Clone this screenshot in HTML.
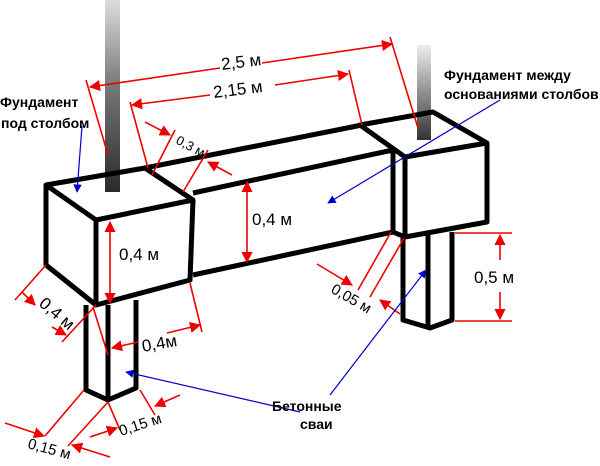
<!DOCTYPE html>
<html><head><style>body{margin:0;background:#fff}svg{display:block}</style></head><body>
<svg width="600" height="466" viewBox="0 0 600 466" xmlns="http://www.w3.org/2000/svg" font-family="Liberation Sans, sans-serif">
<defs>
<linearGradient id="g" x1="0" y1="0" x2="0" y2="1"><stop offset="0" stop-color="#ddd"/><stop offset="0.45" stop-color="#777"/><stop offset="1" stop-color="#2a2a2a"/></linearGradient>
<linearGradient id="g2" x1="0" y1="0" x2="0" y2="1"><stop offset="0" stop-color="#eee"/><stop offset="1" stop-color="#333"/></linearGradient>
<marker id="r" viewBox="0 0 10 10" refX="9" refY="5" markerWidth="7" markerHeight="7" orient="auto-start-reverse"><path d="M0,0L10,5L0,10z" fill="#e00"/></marker>
<marker id="b" viewBox="0 0 10 10" refX="9" refY="5" markerWidth="7" markerHeight="7" orient="auto"><path d="M0,0L10,5L0,10z" fill="#00c"/></marker>
</defs>
<rect x="105" y="0" width="15" height="192" fill="url(#g)"/>
<rect x="417" y="45" width="14" height="95" fill="url(#g2)"/>
<g fill="none" stroke="#000" stroke-width="5" stroke-linejoin="round">
<polyline points="145,168 362,125"/>
<polyline points="193,193 393,150"/>
<polyline points="193,275 393,232"/>
<polygon points="46,185 145,168 193,200 96,220"/>
<polyline points="46,185 46,265 96,305 190,280 193,200"/>
<line x1="96" y1="220" x2="96" y2="305"/>
<polygon points="360,125 433,112 487,143 405,157"/>
<polyline points="393,150 393,232 405,237 487,222 487,143"/>
<line x1="405" y1="157" x2="405" y2="237"/>
<polyline points="86,305 86,390 108,400 136,388 136,300"/>
<line x1="108" y1="305" x2="108" y2="400"/>
<polyline points="403,237 403,320 430,328 452,320 452,232"/>
<line x1="428" y1="235" x2="428" y2="328"/>
</g>
<g stroke="#e00" stroke-width="1.6" fill="none">
<line x1="86" y1="80" x2="108" y2="155"/><line x1="390" y1="37" x2="418" y2="128"/>
<line x1="90" y1="87" x2="220" y2="68" marker-start="url(#r)"/><line x1="262" y1="63" x2="392" y2="44" marker-end="url(#r)"/>
<line x1="130" y1="102" x2="148" y2="168"/><line x1="349" y1="70" x2="362" y2="125"/>
<line x1="132" y1="105" x2="210" y2="95" marker-start="url(#r)"/><line x1="275" y1="85" x2="348" y2="74" marker-end="url(#r)"/>
<line x1="152" y1="175" x2="175" y2="130"/><line x1="183" y1="192" x2="208" y2="150"/>
<line x1="145" y1="122" x2="170" y2="135" marker-end="url(#r)"/><line x1="232" y1="175" x2="208" y2="162" marker-end="url(#r)"/>
<line x1="110" y1="222" x2="110" y2="303" marker-start="url(#r)" marker-end="url(#r)"/>
<line x1="247" y1="182" x2="247" y2="262" marker-start="url(#r)" marker-end="url(#r)"/>
<line x1="46" y1="265" x2="15" y2="300"/><line x1="96" y1="305" x2="62" y2="342"/>
<line x1="22" y1="292" x2="35" y2="305" marker-end="url(#r)"/><line x1="52" y1="327" x2="66" y2="335" marker-end="url(#r)"/>
<line x1="190" y1="283" x2="202" y2="332"/><line x1="93" y1="307" x2="108" y2="355"/>
<line x1="138" y1="342" x2="112" y2="348" marker-end="url(#r)"/><line x1="167" y1="333" x2="200" y2="325" marker-end="url(#r)"/>
<line x1="84" y1="390" x2="45" y2="436"/><line x1="108" y1="402" x2="68" y2="446"/>
<line x1="5" y1="423" x2="44" y2="436" marker-end="url(#r)"/><line x1="110" y1="457" x2="72" y2="445" marker-end="url(#r)"/>
<line x1="108" y1="402" x2="120" y2="430"/><line x1="140" y1="390" x2="155" y2="415"/>
<line x1="90" y1="437" x2="117" y2="428" marker-end="url(#r)"/><line x1="180" y1="395" x2="155" y2="406" marker-end="url(#r)"/>
<line x1="391" y1="232" x2="358" y2="290"/><line x1="404" y1="238" x2="370" y2="297"/>
<line x1="317" y1="264" x2="352" y2="285" marker-end="url(#r)"/><line x1="400" y1="314" x2="380" y2="300" marker-end="url(#r)"/>
<line x1="455" y1="233" x2="512" y2="233"/><line x1="455" y1="321" x2="512" y2="321"/>
<line x1="500" y1="260" x2="500" y2="235" marker-end="url(#r)"/><line x1="500" y1="292" x2="500" y2="319" marker-end="url(#r)"/>
</g>
<g stroke="#00c" stroke-width="1.2">
<line x1="82" y1="126" x2="77" y2="192" marker-end="url(#b)"/>
<line x1="500" y1="100" x2="328" y2="203" marker-end="url(#b)"/>
<line x1="300" y1="412" x2="126" y2="372" marker-end="url(#b)"/>
<line x1="330" y1="395" x2="426" y2="270" marker-end="url(#b)"/>
</g>
<g font-size="17" fill="#000">
<text x="222" y="70" transform="rotate(-7 222 70)">2,5 м</text>
<text x="214" y="98" transform="rotate(-7 214 98)">2,15 м</text>
<text x="175" y="143" font-size="13" transform="rotate(28 175 143)">0,3 м</text>
<text x="119" y="260">0,4 м</text>
<text x="252" y="225">0,4 м</text>
<text x="38" y="305" transform="rotate(40 38 305)">0,4 м</text>
<text x="143" y="352" transform="rotate(-10 143 352)">0,4м</text>
<text x="27" y="448" font-size="15" transform="rotate(15 27 448)">0,15 м</text>
<text x="121" y="436" font-size="15" transform="rotate(-18 121 436)">0,15 м</text>
<text x="330" y="292" font-size="15" transform="rotate(30 330 292)">0,05 м</text>
<text x="474" y="283">0,5 м</text>
</g>
<g font-size="14" font-weight="bold" fill="#000">
<text x="0" y="107">Фундамент</text>
<text x="1" y="128">под столбом</text>
<text x="444" y="80">Фундамент между</text>
<text x="444" y="99">основаниями столбов</text>
<text x="272" y="411">Бетонные</text>
<text x="300" y="429">сваи</text>
</g>
</svg>
</body></html>
